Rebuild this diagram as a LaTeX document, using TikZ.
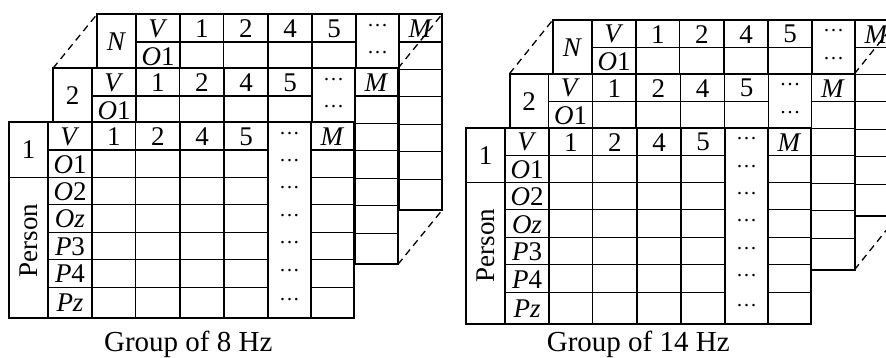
\documentclass[tikz,border=0pt]{standalone}
\usepackage{fontspec}
\setmainfont{Liberation Serif}
\tikzset{
  outerline/.style={line width=2pt},
  innerline/.style={line width=1.5pt},
  celltext/.style={font=\fontsize{27}{27}\selectfont, inner sep=0pt},
  dotstext/.style={font=\fontsize{21}{21}\selectfont, inner sep=0pt},
  captiontext/.style={font=\fontsize{29}{30}\selectfont, inner sep=0pt, anchor=base},
  layerlink/.style={line width=1.3pt, dash pattern=on 7pt off 5pt},
}
% #1 prefix, #2 x, #3 y, #4 layer label
\newcommand{\tablelayer}[4]{%
  \begin{scope}[shift={(#2,#3)}]
    \fill[white] (0,0) rectangle (345,196);
    \foreach \xx in {39,83,126.5,171,215,259,302} \draw[innerline] (\xx,0) -- (\xx,196);
    \draw[innerline] (39,27.7) -- (259,27.7);
    \draw[innerline] (0,55) -- (259,55);
    \foreach \yy in {82,110,137,165} \draw[innerline] (39,\yy) -- (259,\yy);
    \foreach \yy in {27.7,55,82,110,137,165} \draw[innerline] (302,\yy) -- (345,\yy);
    \draw[outerline] (0,0) rectangle (345,196);
    \coordinate (#1-nw) at (0,0);
    \coordinate (#1-ne) at (345,0);
    \coordinate (#1-se) at (345,196);
    \node[celltext] (#1-lab) at (19.5,27.5) {#4};
    \node[celltext] (#1-v) at (61,14.5) {\textit{V}};
    \node[celltext] (#1-o1) at (61,42.3) {\textit{O}1};
    \node[celltext] (#1-h1) at (104.75,14.5) {1};
    \node[celltext] (#1-h2) at (148.75,14.5) {2};
    \node[celltext] (#1-h4) at (193,14.5) {4};
    \node[celltext] (#1-h5) at (237,14.5) {5};
    \node[celltext] (#1-hm) at (323.5,14.5) {\textit{M}};
    \node[dotstext] (#1-d1) at (280.5,13.85) {···};
    \node[dotstext] (#1-d2) at (280.5,41.35) {···};
  \end{scope}}
% rows 3-7 of the front layer
\newcommand{\frontrows}[3]{%
  \begin{scope}[shift={(#2,#3)}]
    \node[celltext, rotate=90] (#1-person) at (19.5,118) {Person};
    \node[celltext] (#1-o2) at (61,69.2) {\textit{O}2};
    \node[celltext] (#1-oz) at (61,96.6) {\textit{Oz}};
    \node[celltext] (#1-p3) at (61,124.2) {\textit{P}3};
    \node[celltext] (#1-p4) at (61,151.7) {\textit{P}4};
    \node[celltext] (#1-pz) at (61,180.8) {\textit{Pz}};
    \node[dotstext] (#1-d3) at (280.5,68.5) {···};
    \node[dotstext] (#1-d4) at (280.5,96) {···};
    \node[dotstext] (#1-d5) at (280.5,123.5) {···};
    \node[dotstext] (#1-d6) at (280.5,151) {···};
    \node[dotstext] (#1-d7) at (280.5,180.5) {···};
  \end{scope}}
\begin{document}
\begin{tikzpicture}[x=1pt,y=-1pt]
  \useasboundingbox (0,0) rectangle (886,358);
  \clip (0,0) rectangle (886,358);
  % left group (8 Hz)
  \tablelayer{A3}{97}{14.3}{\textit{N}}
  \tablelayer{A2}{53}{68.3}{2}
  \tablelayer{A1}{9}{122.3}{1}
  \frontrows{A1}{9}{122.3}
  \draw[layerlink] (A2-nw) -- (A3-nw);
  \draw[layerlink] (A2-ne) -- (A3-ne);
  \draw[layerlink] (A2-se) -- (A3-se);
  \node[captiontext] (capA) at (188.3,351.5) {Group of 8 Hz};
  % right group (14 Hz)
  \tablelayer{B3}{553}{19.7}{\textit{N}}
  \tablelayer{B2}{509.5}{73.7}{2}
  \tablelayer{B1}{466}{127.7}{1}
  \frontrows{B1}{466}{127.7}
  \draw[layerlink] (B2-nw) -- (B3-nw);
  \draw[layerlink] (B2-ne) -- (B3-ne);
  \draw[layerlink] (B2-se) -- (B3-se);
  \node[captiontext] (capB) at (638.3,351.5) {Group of 14 Hz};
\end{tikzpicture}
\end{document}
